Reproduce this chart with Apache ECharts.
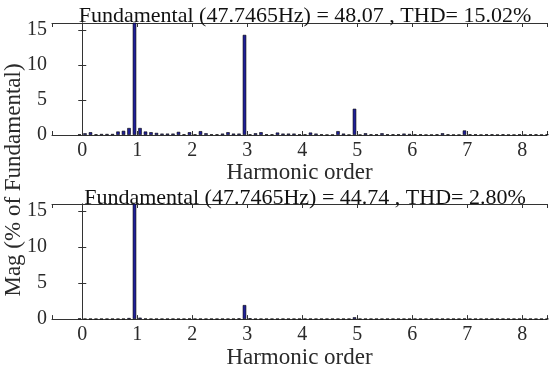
<!DOCTYPE html>
<html>
<head>
<meta charset="utf-8">
<script src="https://cdn.jsdelivr.net/npm/echarts@6/dist/echarts.min.js"></script>
</head>
<body style="margin:0">
<div id="container" style="width:550px;height:370px"></div>
<script>
// harmonic order of each bin (0.1 step, fundamental bin at 0.95)
const binStep = 0.1;
const binStart = -0.05;
// magnitude in % of fundamental, upper plot (THD 15.02%)
const magTop = [
  0.1, 0.25, 0.4, 0.1, 0.15, 0.15, 0.15, 0.5, 0.6, 1.0,
  100, 1.0, 0.5, 0.4, 0.3, 0.2, 0.2, 0.2, 0.45, 0.1,
  0.4, 0.1, 0.55, 0.25, 0.1, 0.1, 0.2, 0.4, 0.2, 0.2,
  14.3, 0.1, 0.25, 0.4, 0.1, 0.1, 0.35, 0.2, 0.2, 0.2,
  0.1, 0.1, 0.35, 0.2, 0.1, 0.05, 0.05, 0.55, 0.2, 0.05,
  3.75, 0.05, 0.25, 0.1, 0.1, 0.25, 0.1, 0.1, 0.1, 0.2,
  0.15, 0.1, 0.1, 0.05, 0.05, 0.1, 0.25, 0.1, 0.05, 0.05,
  0.65, 0.1, 0.1, 0.05, 0.1, 0.1, 0.05, 0.1, 0.05, 0.05,
  0.1, 0.05, 0.1, 0.1, 0.05, 0.1
];
// lower plot (THD 2.80%)
const magBottom = [
  0.1, 0.05, 0.05, 0.05, 0.05, 0.05, 0.05, 0.05, 0.05, 0.15,
  100, 0.2, 0.08, 0.05, 0.05, 0.05, 0.05, 0.05, 0.05, 0.05,
  0.08, 0.05, 0.05, 0.05, 0.05, 0.05, 0.05, 0.05, 0.05, 0.1,
  1.95, 0.12, 0.05, 0.05, 0.05, 0.05, 0.05, 0.05, 0.05, 0.05,
  0.05, 0.05, 0.05, 0.05, 0.05, 0.05, 0.05, 0.05, 0.05, 0.05,
  0.25, 0.05, 0.05, 0.05, 0.05, 0.05, 0.05, 0.05, 0.05, 0.05,
  0.05, 0.05, 0.05, 0.05, 0.05, 0.05, 0.05, 0.05, 0.05, 0.05,
  0.08, 0.05, 0.05, 0.05, 0.05, 0.05, 0.05, 0.05, 0.05, 0.05,
  0.05, 0.05, 0.05, 0.05, 0.05, 0.05
];
const titles = [
  'Fundamental (47.7465Hz) = 48.07 , THD= 15.02%',
  'Fundamental (47.7465Hz) = 44.74 , THD= 2.80%'
];
const xName = 'Harmonic order';
const yName = 'Mag (% of Fundamental)';

const font = 'Liberation Serif';
const dark = '#2a2a2a';

function toPoints(arr) {
  return arr.map((v, k) => [+(binStart + k * binStep).toFixed(2), v]);
}

const grids = [
  { left: 52, right: 3, top: 23, height: 112 },
  { left: 52, right: 3, top: 204, height: 120 }
];

const xAxes = [], yAxes = [], series = [];
[magTop, magBottom].forEach(function (mag, i) {
  const common = {
    gridIndex: i, type: 'value', min: -0.55, max: 8.45, splitNumber: 9,
    axisLine: { onZero: false, lineStyle: { color: '#333', width: 1 } },
    axisTick: { inside: true, length: 4, lineStyle: { color: '#333' } },
    splitLine: { show: false }
  };
  xAxes.push(Object.assign({}, common, {
    position: 'bottom',
    name: xName, nameLocation: 'middle', nameGap: 23,
    nameTextStyle: { fontFamily: font, fontSize: 23, color: dark },
    axisLabel: {
      margin: 6, fontFamily: font, fontSize: 20, color: dark,
      formatter: v => Number.isInteger(v) ? String(v) : ''
    }
  }));
  xAxes.push(Object.assign({}, common, { position: 'top', axisLabel: { show: false } }));
  const ycommon = {
    gridIndex: i, type: 'value', min: 0, max: 16, interval: 5,
    axisLine: { show: true, lineStyle: { color: '#333', width: 1 } },
    axisTick: { show: true, inside: true, length: 4, lineStyle: { color: '#333' } },
    splitLine: { show: false }
  };
  yAxes.push(Object.assign({}, ycommon, {
    position: 'left',
    axisLabel: {
      margin: 5, fontFamily: font, fontSize: 20, color: dark,
      formatter: v => v % 5 === 0 ? String(v) : ''
    }
  }));
  yAxes.push(Object.assign({}, ycommon, { position: 'right', axisLabel: { show: false } }));
  series.push({
    type: 'bar',
    xAxisIndex: i * 2,
    yAxisIndex: i * 2,
    barWidth: 3.5,
    clip: true,
    itemStyle: { color: '#1f1f99', borderColor: '#000', borderWidth: 0.6 },
    data: toPoints(mag)
  });
});

const chart = echarts.init(document.getElementById('container'), null, { renderer: 'canvas' });
chart.setOption({
  animation: false,
  title: [
    { text: titles[0], left: 300, textAlign: 'center', top: 0,
      textStyle: { fontFamily: font, fontSize: 22, fontWeight: 'normal', color: '#111' } },
    { text: titles[1], left: 300, textAlign: 'center', top: 182,
      textStyle: { fontFamily: font, fontSize: 22, fontWeight: 'normal', color: '#111' } }
  ],
  grid: grids,
  xAxis: xAxes,
  yAxis: yAxes,
  series: series,
  graphic: [{
    type: 'text', x: 14, y: 180, rotation: Math.PI / 2,
    style: { text: yName, fontFamily: font, fontSize: 23, fill: dark, align: 'center', verticalAlign: 'middle' }
  }]
});
</script>
</body>
</html>
